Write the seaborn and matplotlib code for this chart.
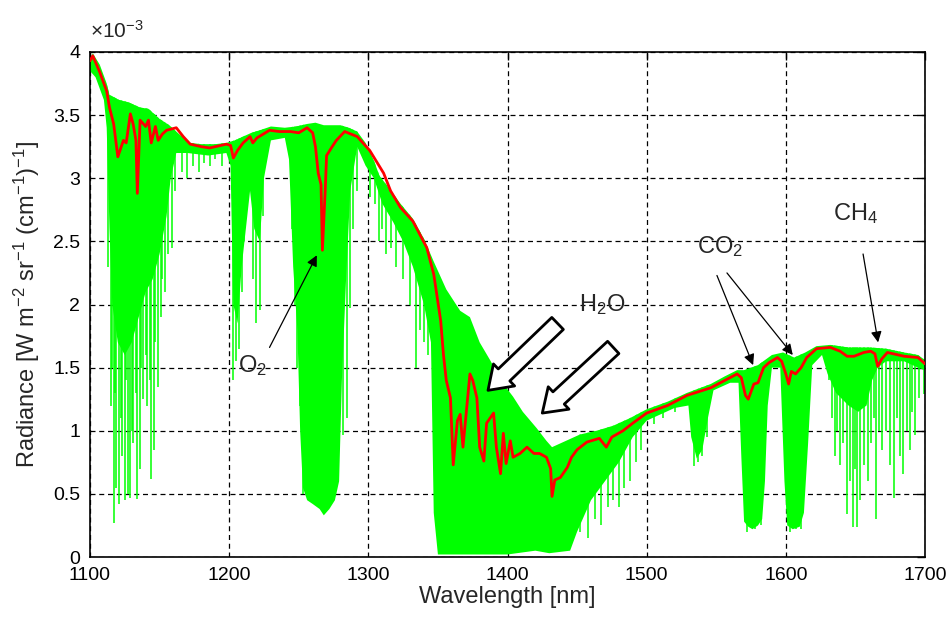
import numpy as np
import matplotlib
matplotlib.use("Agg")
import matplotlib.pyplot as plt
from matplotlib.patches import Polygon
from matplotlib.ticker import FuncFormatter
import seaborn as sns

# upper edge of the simulated spectrum (green), radiance in 1e-3 units
env_wl = [1100, 1102, 1107, 1112, 1114, 1121, 1128, 1136, 1142, 1150, 1157, 1164, 1172, 1180,
          1190, 1198, 1204, 1210, 1216, 1222, 1230, 1240, 1248, 1256, 1262, 1268, 1274, 1280,
          1286, 1292, 1298, 1304, 1308, 1315, 1323, 1332, 1340, 1347, 1356, 1366, 1373, 1380,
          1388, 1395, 1404, 1411, 1421, 1428, 1432, 1442, 1452, 1464, 1476, 1488, 1500, 1515,
          1529, 1546, 1556, 1565, 1570, 1580, 1590, 1598, 1606, 1614, 1622, 1632, 1645, 1660,
          1672, 1685, 1695, 1700]
env_rad = [3.94, 3.99, 3.90, 3.75, 3.66, 3.62, 3.60, 3.56, 3.55, 3.47, 3.42, 3.35, 3.28, 3.27,
           3.27, 3.28, 3.30, 3.33, 3.36, 3.38, 3.41, 3.40, 3.41, 3.43, 3.44, 3.42, 3.42, 3.42,
           3.40, 3.37, 3.28, 3.14, 3.02, 2.92, 2.80, 2.68, 2.52, 2.34, 2.12, 1.95, 1.90, 1.70,
           1.55, 1.40, 1.27, 1.15, 1.02, 0.92, 0.87, 0.92, 0.97, 1.00, 1.04, 1.10, 1.17, 1.23,
           1.30, 1.37, 1.43, 1.48, 1.48, 1.52, 1.60, 1.62, 1.58, 1.62, 1.67, 1.68, 1.66, 1.66,
           1.65, 1.62, 1.60, 1.56]

# lower edge of the dense (solid) absorption
floor_wl = [1100, 1104, 1110, 1112, 1114, 1116, 1120, 1125, 1130, 1135, 1140, 1145, 1150, 1155,
            1158, 1162, 1170, 1185, 1198, 1201, 1203, 1206, 1209, 1212, 1215, 1218, 1222, 1225,
            1230, 1240, 1243, 1246, 1249, 1251, 1253, 1256, 1260, 1265, 1268, 1272, 1276, 1279,
            1281, 1284, 1287, 1292, 1298, 1304, 1310, 1318, 1325, 1332, 1340, 1345, 1347, 1350,
            1400, 1420, 1430, 1445, 1450, 1460, 1470, 1480, 1490, 1500, 1520, 1530, 1532, 1536,
            1540, 1544, 1548, 1560, 1566, 1568, 1570, 1573, 1576, 1580, 1583, 1585, 1587, 1590,
            1596, 1599, 1601, 1605, 1610, 1613, 1616, 1619, 1626, 1630, 1636, 1645, 1652, 1658,
            1662, 1666, 1672, 1685, 1695, 1700]
floor_rad = [3.85, 3.80, 3.62, 3.40, 2.60, 2.00, 1.70, 1.60, 1.70, 1.90, 2.10, 2.20, 2.40, 2.70,
             3.00, 3.20, 3.20, 3.18, 3.20, 3.10, 2.00, 1.85, 2.30, 2.60, 2.90, 2.60, 2.50, 3.00,
             3.30, 3.32, 3.15, 2.30, 1.80, 1.00, 0.55, 0.45, 0.42, 0.38, 0.33, 0.38, 0.45, 0.60,
             1.40, 2.20, 2.90, 3.25, 3.10, 3.00, 2.80, 2.65, 2.50, 2.30, 2.00, 1.70, 0.35, 0.02,
             0.02, 0.05, 0.03, 0.05, 0.20, 0.45, 0.60, 0.75, 0.95, 1.08, 1.18, 1.20, 0.95, 0.78,
             0.85, 1.10, 1.32, 1.38, 1.38, 0.80, 0.28, 0.24, 0.22, 0.25, 0.30, 0.60, 1.20, 1.50,
             1.50, 0.60, 0.25, 0.22, 0.24, 0.35, 0.90, 1.52, 1.60, 1.45, 1.30, 1.20, 1.15, 1.20,
             1.40, 1.50, 1.55, 1.55, 1.50, 1.48]

# individual deep lines
line_wl = [1113, 1115, 1116, 1117, 1118, 1119, 1121, 1122, 1123, 1125, 1126, 1127, 1129, 1130,
           1131, 1133, 1134, 1136, 1137, 1138, 1140, 1141, 1143, 1144, 1146, 1147, 1149, 1151,
           1152, 1154, 1156, 1159, 1161, 1166, 1170, 1174, 1178, 1182, 1186, 1190, 1195, 1203,
           1205, 1207, 1209, 1211, 1217, 1219, 1222, 1224, 1245, 1247, 1249, 1251, 1253, 1282,
           1285, 1287, 1289, 1292, 1301, 1305, 1308, 1310, 1313, 1316, 1320, 1325, 1330, 1334,
           1337, 1340, 1343, 1452, 1458, 1463, 1467, 1472, 1476, 1480, 1484, 1488, 1492, 1496,
           1505, 1512, 1520, 1534, 1537, 1540, 1543, 1572, 1578, 1582, 1603, 1607, 1611, 1631,
           1633, 1635, 1637, 1639, 1641, 1644, 1646, 1648, 1650, 1651, 1653, 1656, 1659, 1661,
           1663, 1665, 1667, 1669, 1672, 1675, 1678, 1680, 1682, 1684, 1687, 1689, 1691, 1693,
           1696, 1699]
line_min = [2.30, 1.20, 1.50, 0.27, 1.30, 0.55, 0.42, 1.10, 0.80, 0.45, 1.40, 0.50, 0.47, 1.00,
            0.90, 1.30, 0.46, 0.70, 1.50, 1.25, 1.60, 1.20, 1.40, 0.62, 0.85, 1.70, 1.35, 1.90,
            2.20, 2.10, 2.40, 2.45, 2.90, 3.05, 3.00, 3.10, 3.05, 3.12, 3.10, 3.15, 3.10, 1.40,
            1.55, 1.65, 2.10, 2.50, 2.20, 1.85, 1.96, 2.70, 2.60, 2.00, 1.50, 1.20, 0.50, 0.97,
            1.10, 1.97, 2.60, 2.90, 2.85, 2.80, 2.50, 2.60, 2.40, 2.45, 2.30, 2.20, 2.00, 1.50,
            1.80, 1.70, 1.60, 0.20, 0.15, 0.30, 0.25, 0.40, 0.45, 0.40, 0.55, 0.60, 0.75, 0.85,
            1.05, 1.10, 1.15, 0.72, 0.75, 0.80, 0.95, 0.20, 0.22, 0.25, 0.20, 0.22, 0.22, 1.40,
            1.10, 0.80, 1.00, 0.73, 0.90, 0.34, 0.60, 0.24, 0.70, 0.24, 0.45, 0.73, 0.60, 0.90,
            1.10, 0.30, 1.00, 0.85, 1.00, 0.73, 0.47, 1.10, 0.80, 0.66, 1.00, 0.85, 1.15, 0.97,
            1.26, 1.29]

# measured (convolved) spectrum, red
red_wl = [1100, 1102, 1107, 1112, 1114, 1117, 1120, 1124, 1126, 1129, 1131, 1133, 1134, 1136,
          1140, 1142, 1144, 1147, 1149, 1152, 1155, 1162, 1167, 1172, 1180, 1186, 1194, 1198,
          1201, 1203, 1206, 1210, 1215, 1217, 1220, 1229, 1236, 1244, 1250, 1256, 1260, 1262,
          1264, 1266, 1267, 1269, 1270, 1274, 1277, 1283, 1292, 1301, 1311, 1316, 1323, 1332,
          1342, 1347, 1352, 1354, 1356, 1359, 1361, 1364, 1366, 1368, 1373, 1375, 1378, 1380,
          1383, 1385, 1390, 1392, 1395, 1397, 1399, 1402, 1404, 1409, 1414, 1419, 1423, 1428,
          1431, 1432, 1434, 1438, 1443, 1446, 1450, 1457, 1466, 1471, 1475, 1483, 1490, 1500,
          1515, 1529, 1546, 1565, 1568, 1571, 1573, 1577, 1580, 1584, 1588, 1594, 1597, 1600,
          1602, 1604, 1607, 1611, 1615, 1622, 1632, 1639, 1644, 1649, 1656, 1661, 1664, 1666,
          1669, 1673, 1685, 1695, 1700]
red_rad = [3.93, 3.97, 3.84, 3.69, 3.56, 3.43, 3.17, 3.30, 3.28, 3.51, 3.43, 3.30, 2.88, 3.46,
           3.41, 3.46, 3.28, 3.41, 3.30, 3.35, 3.38, 3.40, 3.33, 3.27, 3.25, 3.24, 3.26, 3.27,
           3.26, 3.16, 3.22, 3.28, 3.33, 3.28, 3.32, 3.38, 3.37, 3.37, 3.36, 3.40, 3.36, 3.25,
           3.04, 2.95, 2.43, 2.90, 3.18, 3.25, 3.30, 3.37, 3.33, 3.22, 3.04, 2.90, 2.77, 2.66,
           2.45, 2.24, 1.87, 1.60, 1.40, 1.26, 0.73, 1.08, 1.13, 0.87, 1.45, 1.40, 1.26, 0.87,
           0.76, 1.06, 1.14, 0.87, 0.66, 0.98, 0.74, 0.92, 0.79, 0.82, 0.87, 0.82, 0.82, 0.79,
           0.70, 0.48, 0.61, 0.63, 0.71, 0.79, 0.85, 0.91, 0.94, 0.87, 0.95, 1.00, 1.06, 1.14,
           1.20, 1.28, 1.34, 1.45, 1.42, 1.28, 1.25, 1.37, 1.38, 1.50, 1.54, 1.58, 1.55, 1.45,
           1.37, 1.47, 1.45, 1.50, 1.58, 1.65, 1.66, 1.63, 1.59, 1.59, 1.62, 1.63, 1.61, 1.51,
           1.57, 1.62, 1.59, 1.58, 1.53]

x_ticks = [1100, 1200, 1300, 1400, 1500, 1600, 1700]
y_ticks = [0, 0.5, 1, 1.5, 2, 2.5, 3, 3.5, 4]

GREEN = "#00ff00"
RED = "#ff0000"

sns.set_style("white")
plt.rcParams["font.family"] = ["Liberation Sans", "DejaVu Sans"]
plt.rcParams["mathtext.fontset"] = "custom"
plt.rcParams["mathtext.rm"] = "Liberation Sans"
plt.rcParams["mathtext.it"] = "Liberation Sans"

fig = plt.figure(figsize=(9.46, 6.2), dpi=100)
ax = fig.add_axes([90 / 946, 1 - 557 / 620, 835 / 946, 505 / 620])

# solid part of the green spectrum
ax.fill(env_wl + floor_wl[::-1], env_rad + floor_rad[::-1], color=GREEN, lw=0, zorder=2)

# single absorption lines, kept under the upper edge
clip = Polygon(np.column_stack([env_wl + [1700, 1100], env_rad + [0, 0]]),
               closed=True, transform=ax.transData)
spikes = ax.vlines(line_wl, line_min, 4.2, color=GREEN, lw=1.1, zorder=2)
spikes.set_clip_path(clip)

sns.lineplot(x=red_wl, y=red_rad, color=RED, lw=2, ax=ax, zorder=3, sort=False)

ax.set_xlim(1100, 1700)
ax.set_ylim(0, 4)
ax.set_xticks(x_ticks)
ax.set_yticks(y_ticks)
ax.yaxis.set_major_formatter(FuncFormatter(lambda v, p: f"{v:g}"))
ax.grid(True, color="black", linestyle=(0, (4, 3)), lw=0.9)
ax.set_axisbelow(True)
ax.tick_params(direction="in", length=6, width=1, labelsize=14, pad=7,
               top=True, right=True, colors="black")
for s in ax.spines.values():
    s.set_color("black")
    s.set_linewidth(1.2)

ax.set_xlabel("Wavelength [nm]", fontsize=17, labelpad=2)
ax.set_ylabel(r"Radiance [W m$^{-2}$ sr$^{-1}$ (cm$^{-1}$)$^{-1}$]", fontsize=17, labelpad=8)
ax.text(0.0, 1.02, r"×10$^{-3}$", transform=ax.transAxes, fontsize=15, ha="left", va="bottom")

# annotations
arrow_kw = dict(arrowstyle="-|>", color="black", lw=0.9, mutation_scale=16,
                shrinkA=0, shrinkB=0)
ax.text(1217, 1.52, r"O$_2$", fontsize=17, ha="center", va="center")
ax.annotate("", xy=(1263, 2.39), xytext=(1229, 1.66), arrowprops=arrow_kw)
ax.text(1468, 2.0, r"H$_2$O", fontsize=17, ha="center", va="center")
for tip, tail in [((1386, 1.32), (1436, 1.85)), ((1425, 1.14), (1476, 1.66))]:
    ax.annotate("", xy=tip, xytext=tail, zorder=5,
                arrowprops=dict(arrowstyle="simple,head_length=0.8,head_width=1.1,tail_width=0.6",
                                fc="white", ec="black", lw=2, mutation_scale=20,
                                shrinkA=0, shrinkB=0))
ax.text(1553, 2.46, r"CO$_2$", fontsize=17, ha="center", va="center")
ax.annotate("", xy=(1576.5, 1.52), xytext=(1550.5, 2.23), arrowprops=arrow_kw)
ax.annotate("", xy=(1605, 1.60), xytext=(1557.7, 2.25), arrowprops=arrow_kw)
ax.text(1650, 2.72, r"CH$_4$", fontsize=17, ha="center", va="center")
ax.annotate("", xy=(1666.3, 1.70), xytext=(1655.5, 2.40), arrowprops=arrow_kw)

fig.savefig("out.png", dpi=100, facecolor="white")
